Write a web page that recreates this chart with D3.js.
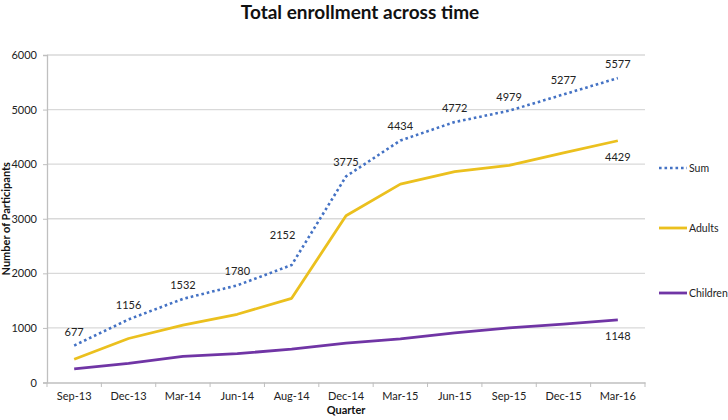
<!DOCTYPE html>
<html><head><meta charset="utf-8">
<script src="https://cdn.jsdelivr.net/npm/d3@7"></script>
<style>body{margin:0;background:#fff;} svg{display:block;font-family:Lato, "Open Sans", sans-serif;}</style>
</head><body><div id="chart"></div>
<script>
const quarters = ["Sep-13","Dec-13","Mar-14","Jun-14","Aug-14","Dec-14","Mar-15","Jun-15","Sep-15","Dec-15","Mar-16"];
const sumValues = [677,1156,1532,1780,2152,3775,4434,4772,4979,5277,5577];
const adultValues = [427,806,1052,1250,1542,3055,3634,3862,3979,4207,4429];
const childValues = [250,350,480,530,610,720,800,910,1000,1070,1148];
const yTicks = [0,1000,2000,3000,4000,5000,6000];
const seriesNames = ["Sum","Adults","Children"];
const seriesColors = ["#4472C4","#EBC01E","#7035A5"];

const W=728,H=420;
const svg=d3.select("#chart").append("svg").attr("width",W).attr("height",H);
const x=d3.scaleBand().domain(quarters).range([47,645]);
const y=d3.scaleLinear().domain([0,6000]).range([382.5,55]);
const cx=d=>x(d)+x.bandwidth()/2;

// gridlines
svg.append("g").selectAll("line").data(yTicks.slice(1)).join("line")
 .attr("x1",47).attr("x2",645).attr("y1",d=>y(d)).attr("y2",d=>y(d))
 .attr("stroke","#d9d9d9").attr("stroke-width",1.3);

// y axis
const ya=svg.append("g").attr("transform","translate(47,0)")
 .call(d3.axisLeft(y).tickValues(yTicks).tickSize(4).tickPadding(6).tickFormat(d3.format("d")));
ya.select(".domain").attr("stroke","#bfbfbf").attr("stroke-width",1.3);
ya.selectAll(".tick line").attr("stroke","#bfbfbf");
ya.selectAll("text").attr("font-size",11).attr("fill","#222").attr("font-family","Lato");

// x axis
const xa=svg.append("g").attr("transform","translate(0,382.5)")
 .call(d3.axisBottom(x).tickSize(0).tickPadding(10));
xa.select(".domain").attr("stroke","#bfbfbf").attr("stroke-width",1.3);
xa.selectAll("text").attr("font-size",11).attr("fill","#222").attr("font-family","Lato");
svg.append("g").selectAll("line").data(d3.range(quarters.length+1)).join("line")
 .attr("x1",i=>47+i*x.step()).attr("x2",i=>47+i*x.step())
 .attr("y1",382.5).attr("y2",387).attr("stroke","#bfbfbf");

// lines
const series=[sumValues,adultValues,childValues];
const line=d3.line().x((d,i)=>cx(quarters[i])).y(d=>y(d));
[2,1,0].forEach(k=>{
 const p=svg.append("path").datum(series[k]).attr("d",line).attr("fill","none")
  .attr("stroke",seriesColors[k]).attr("stroke-width",k===0?2.6:2.8).attr("stroke-linejoin","round");
 if(k===0) p.attr("stroke-dasharray","2.6 2.9");
});

// labels (Aug-14 label is nudged up-left as in the original)
const lblShift=(i)=> i===4 ? [-9,-16] : [0,0];
const lbl=svg.append("g").attr("font-size",11).attr("fill","#222").attr("text-anchor","middle");
lbl.selectAll("text.s").data(sumValues).join("text").attr("class","s")
 .attr("x",(d,i)=>cx(quarters[i])+lblShift(i)[0]).attr("y",(d,i)=>y(d)-10+lblShift(i)[1]).text(d=>d);
lbl.append("text").attr("x",cx(quarters[10])).attr("y",y(adultValues[10])+20).text(adultValues[10]);
lbl.append("text").attr("x",cx(quarters[10])).attr("y",y(childValues[10])+20).text(childValues[10]);

// title
svg.append("text").attr("x",360).attr("y",19).attr("text-anchor","middle")
 .attr("font-size",19).attr("font-weight","bold").attr("fill","#111").text("Total enrollment across time");

// axis titles
svg.append("text").attr("x",346).attr("y",414).attr("text-anchor","middle")
 .attr("font-size",11).attr("font-weight","bold").attr("fill","#111").text("Quarter");
svg.append("text").attr("transform","translate(10,218.75) rotate(-90)").attr("text-anchor","middle")
 .attr("font-size",11).attr("font-weight","bold").attr("fill","#111").text("Number of Participants");

// legend
const legY=[168,228,293];
const lg=svg.append("g");
seriesNames.forEach((n,k)=>{
 const l=lg.append("line").attr("x1",659).attr("x2",687).attr("y1",legY[k]).attr("y2",legY[k])
  .attr("stroke",seriesColors[k]).attr("stroke-width",k===0?2.6:2.8);
 if(k===0) l.attr("stroke-dasharray","2.6 2.9");
 lg.append("text").attr("x",689).attr("y",legY[k]+4).attr("font-size",10.5).attr("fill","#222").text(n);
});
</script></body></html>
